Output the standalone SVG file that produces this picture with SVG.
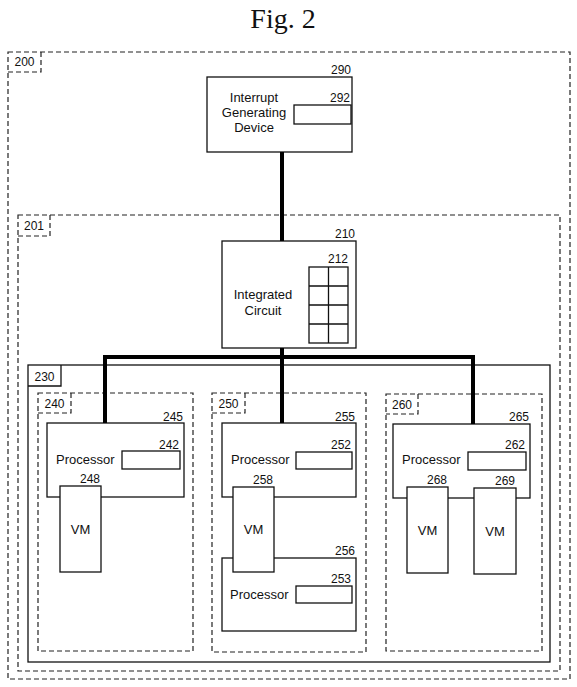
<svg xmlns="http://www.w3.org/2000/svg" width="577" height="687" viewBox="0 0 577 687">
<style>
.dash{fill:none;stroke:#222;stroke-width:1.2;stroke-dasharray:5,3}
.box{fill:#fff;stroke:#111;stroke-width:1.3}
.solid{fill:none;stroke:#111;stroke-width:1.3}
.t{font-family:"Liberation Sans",Arial,sans-serif;font-size:13px;fill:#111}
.n{font-family:"Liberation Sans",Arial,sans-serif;font-size:12px;fill:#111}
.c{text-anchor:middle}
.r{text-anchor:end}
.bus{fill:none;stroke:#000;stroke-width:4}
</style>
<rect width="577" height="687" fill="#fff"/>
<text x="283" y="28" font-family="'Liberation Serif','Times New Roman',serif" font-size="28" text-anchor="middle" fill="#111">Fig. 2</text>

<g id="n200">
<rect class="dash" x="8" y="52" width="562" height="627"/>
<path class="dash" d="M41,52 V72 H8"/>
<text class="n c" x="24.5" y="66">200</text>
</g>

<g id="n201">
<rect class="dash" x="18" y="215" width="542" height="456"/>
<path class="dash" d="M50,215 V236 H18"/>
<text class="n c" x="34" y="230">201</text>
</g>

<g id="n230">
<rect class="solid" x="28" y="365" width="522" height="297"/>
<path class="solid" d="M61,365 V386 H28"/>
<text class="n c" x="44.5" y="381">230</text>
</g>

<g id="n240">
<rect class="dash" x="38" y="393" width="155" height="258"/>
<path class="dash" d="M71,393 V413 H38"/>
<text class="n c" x="54.5" y="408">240</text>
</g>

<g id="n250">
<rect class="dash" x="212" y="393" width="154" height="259"/>
<path class="dash" d="M245,393 V413 H212"/>
<text class="n c" x="228.5" y="408">250</text>
</g>

<g id="n260">
<rect class="dash" x="386" y="394" width="156" height="257"/>
<path class="dash" d="M418,394 V414 H386"/>
<text class="n c" x="402" y="409">260</text>
</g>

<g id="n290">
<rect class="box" x="207" y="77" width="145" height="75"/>
<text class="n r" x="351" y="74">290</text>
<text class="t c" x="254" y="102">Interrupt</text>
<text class="t c" x="254" y="117">Generating</text>
<text class="t c" x="254" y="132">Device</text>
</g>
<g id="n292">
<rect class="box" x="294" y="105" width="57" height="19"/>
<text class="n r" x="350" y="102">292</text>
</g>

<g id="n210">
<rect class="box" x="222" y="241" width="134" height="107"/>
<text class="n r" x="355" y="238">210</text>
<text class="t c" x="263" y="299">Integrated</text>
<text class="t c" x="263" y="315">Circuit</text>
</g>
<g id="n212">
<rect class="solid" x="309" y="267" width="39" height="76"/>
<path class="solid" d="M328.5,267 V343 M309,286 H348 M309,305 H348 M309,324 H348"/>
<text class="n r" x="348" y="263">212</text>
</g>

<g id="n245">
<rect class="box" x="47" y="423" width="137" height="74"/>
<text class="n r" x="183" y="421">245</text>
<text class="t" x="56" y="464">Processor</text>
</g>
<g id="n242">
<rect class="box" x="122" y="451" width="58" height="18"/>
<text class="n r" x="179" y="449">242</text>
</g>
<g id="n248">
<rect class="box" x="60" y="486" width="41" height="86"/>
<text class="n r" x="100" y="483">248</text>
<text class="t c" x="80.5" y="534">VM</text>
</g>

<g id="n255">
<rect class="box" x="222" y="423" width="134" height="74"/>
<text class="n r" x="355" y="421">255</text>
<text class="t" x="231" y="464">Processor</text>
</g>
<g id="n252">
<rect class="box" x="296" y="452" width="56" height="17"/>
<text class="n r" x="351" y="449">252</text>
</g>
<g id="n256">
<rect class="box" x="222" y="558" width="134" height="73"/>
<text class="n r" x="355" y="555">256</text>
<text class="t" x="230" y="599">Processor</text>
</g>
<g id="n253">
<rect class="box" x="296" y="586" width="56" height="17"/>
<text class="n r" x="351" y="583">253</text>
</g>
<g id="n258">
<rect class="box" x="233" y="487" width="41" height="85"/>
<text class="n r" x="273" y="484">258</text>
<text class="t c" x="253.5" y="534">VM</text>
</g>

<g id="n265">
<rect class="box" x="393" y="424" width="137" height="74"/>
<text class="n r" x="529" y="421">265</text>
<text class="t" x="402" y="464">Processor</text>
</g>
<g id="n262">
<rect class="box" x="468" y="452" width="58" height="18"/>
<text class="n r" x="525" y="449">262</text>
</g>
<g id="n268">
<rect class="box" x="407" y="487" width="41" height="86"/>
<text class="n r" x="447" y="484">268</text>
<text class="t c" x="427.5" y="535">VM</text>
</g>
<g id="n269">
<rect class="box" x="474" y="488" width="42" height="86"/>
<text class="n r" x="515" y="485">269</text>
<text class="t c" x="495" y="536">VM</text>
</g>

<g id="connectors">
<path class="bus" d="M282,152 V241"/>
<path class="bus" d="M282,348 V423"/>
<path class="bus" d="M105,423 V357 H473 V424"/>
</g>
</svg>
